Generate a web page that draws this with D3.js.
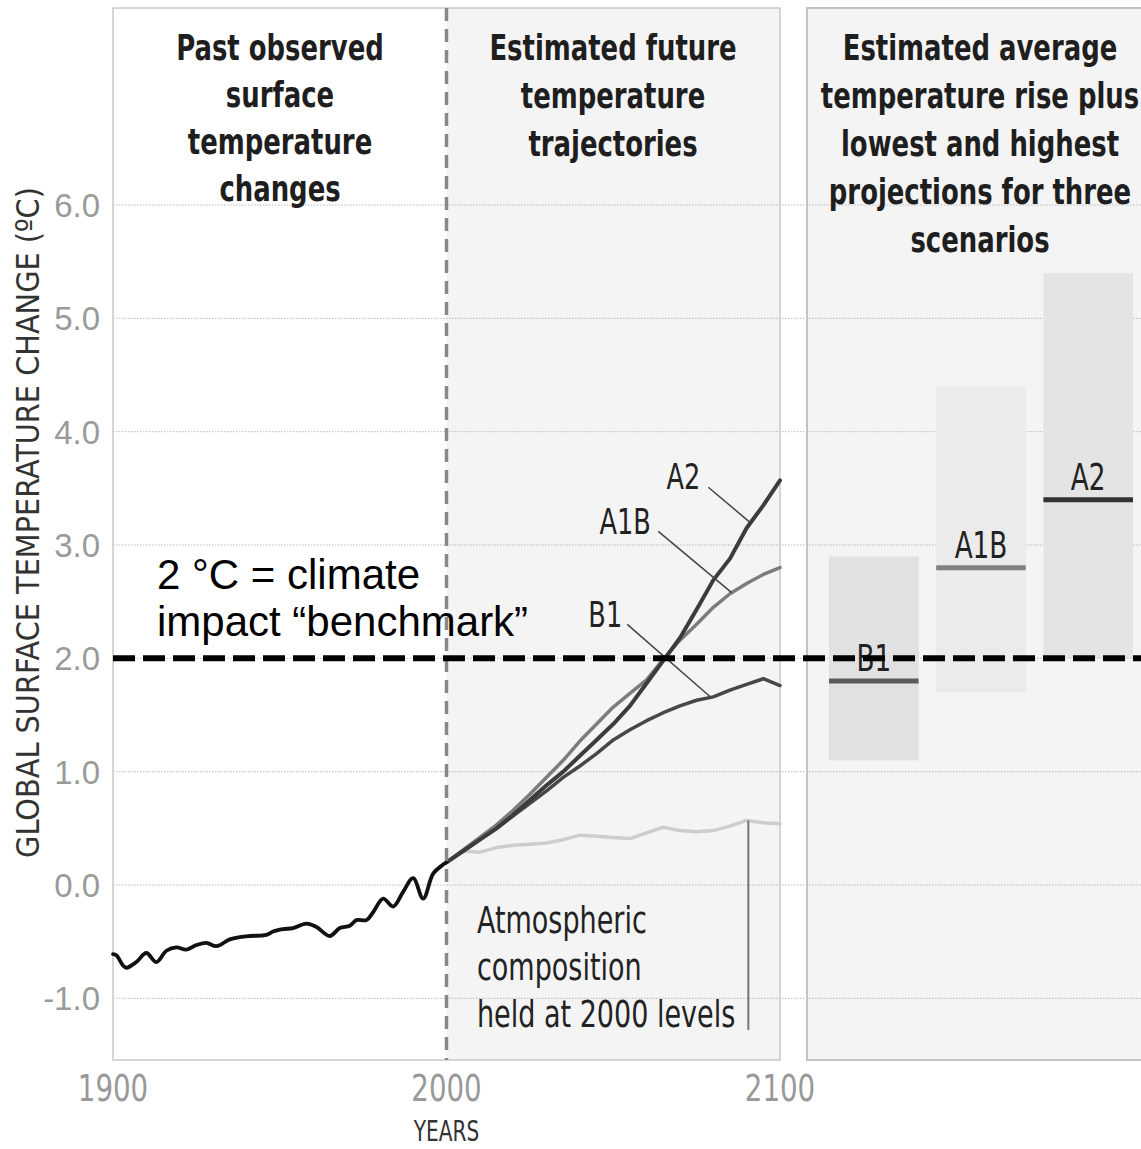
<!DOCTYPE html>
<html>
<head>
<meta charset="utf-8">
<script src="https://cdn.jsdelivr.net/npm/d3@7"></script>
<style>
  html, body { margin: 0; padding: 0; background: #ffffff; }
  svg { display: block; }
</style>
</head>
<body>
<svg id="chart" width="1141" height="1149"></svg>
<script>
// ---------------- DATA ----------------
const histYears  = [1900, 1901, 1903, 1904, 1907, 1910, 1913, 1916, 1919, 1922, 1925, 1928, 1931, 1935, 1938, 1941, 1946, 1948, 1951, 1954, 1958, 1961, 1965, 1968, 1971, 1973, 1976, 1978, 1981, 1984, 1987, 1990, 1993, 1996, 1999, 2000];
const histValues = [-0.61, -0.62, -0.71, -0.73, -0.68, -0.60, -0.68, -0.58, -0.55, -0.57, -0.53, -0.51, -0.54, -0.48, -0.46, -0.45, -0.44, -0.41, -0.39, -0.38, -0.34, -0.37, -0.45, -0.38, -0.36, -0.31, -0.31, -0.24, -0.12, -0.19, -0.06, 0.06, -0.12, 0.10, 0.18, 0.20];

const futureYears   = [2000, 2005, 2010, 2015, 2020, 2025, 2030, 2035, 2040, 2045, 2050, 2055, 2060, 2065, 2070, 2075, 2080, 2085, 2090, 2095, 2100];
const a2Values      = [0.20, 0.30, 0.40, 0.50, 0.62, 0.75, 0.88, 1.00, 1.14, 1.28, 1.42, 1.58, 1.78, 1.98, 2.18, 2.43, 2.69, 2.88, 3.15, 3.35, 3.57];
const a1bValues     = [0.20, 0.31, 0.42, 0.53, 0.66, 0.80, 0.95, 1.10, 1.27, 1.42, 1.57, 1.69, 1.81, 1.99, 2.16, 2.30, 2.45, 2.57, 2.66, 2.74, 2.80];
const b1Values      = [0.20, 0.30, 0.40, 0.50, 0.61, 0.72, 0.83, 0.95, 1.05, 1.16, 1.28, 1.37, 1.45, 1.52, 1.58, 1.63, 1.66, 1.72, 1.77, 1.82, 1.76];
const commitValues  = [0.20, 0.30, 0.29, 0.33, 0.35, 0.36, 0.37, 0.40, 0.44, 0.43, 0.42, 0.41, 0.46, 0.51, 0.48, 0.47, 0.48, 0.52, 0.57, 0.55, 0.54];

const scenarios     = ["B1", "A1B", "A2"];
const scenarioMeans = [1.8, 2.8, 3.4];
const scenarioLows  = [1.1, 1.7, 2.0];
const scenarioHighs = [2.9, 4.4, 5.4];

const yTicks = [-1, 0, 1, 2, 3, 4, 5, 6];
const xTicks = [1900, 2000, 2100];
const benchmark = 2.0;

const titlePast   = ["Past observed", "surface", "temperature", "changes"];
const titleFuture = ["Estimated future", "temperature", "trajectories"];
const titleRight  = ["Estimated average", "temperature rise plus", "lowest and highest", "projections for three", "scenarios"];
const commitLabel = ["Atmospheric", "composition", "held at 2000 levels"];
const benchLabel  = ["2 \u00B0C = climate", "impact \u201Cbenchmark\u201D"];
const yTitle = "GLOBAL SURFACE TEMPERATURE CHANGE (\u00BAC)";
const xTitle = "YEARS";

// ---------------- LAYOUT ----------------
const W = 1141, H = 1149;
const panelTop = 8, panelBottom = 1060;
const rightPanelLeft = 807, rightPanelRight = 1141;

const x = d3.scaleLinear().domain([1900, 2100]).range([113, 780]);
const y = d3.scaleLinear().domain([0, 6]).range([885, 205]);
const xb = d3.scaleBand().domain(scenarios).range([829, 1133]).paddingInner(0.164).paddingOuter(0);

const narrow = "'DejaVu Sans Condensed', 'DejaVu Sans', sans-serif";
const sans = "'Liberation Sans', Arial, sans-serif";
const SQ = 0.79; // horizontal squeeze to mimic a condensed face

const svg = d3.select("#chart");

// helper: condensed text placed at (px, py)
function ctext(parent, px, py, str, o) {
  return parent.append("text")
    .attr("transform", `translate(${px},${py}) scale(${o.sx || SQ},1)`)
    .attr("text-anchor", o.anchor || "start")
    .attr("font-family", o.family || narrow)
    .attr("font-weight", o.weight || "normal")
    .attr("font-size", o.size)
    .attr("fill", o.fill || "#222")
    .text(str);
}

// backgrounds
svg.append("rect").attr("x", 0).attr("y", 0).attr("width", W).attr("height", H).attr("fill", "#ffffff");
svg.append("rect").attr("x", x(2000)).attr("y", panelTop).attr("width", x(2100) - x(2000)).attr("height", panelBottom - panelTop).attr("fill", "#f4f4f4");
svg.append("rect").attr("x", rightPanelLeft).attr("y", panelTop).attr("width", rightPanelRight - rightPanelLeft + 5).attr("height", panelBottom - panelTop).attr("fill", "#f4f4f4");

// grid
svg.append("g").selectAll("line").data(yTicks).join("line")
  .attr("x1", x(1900)).attr("x2", W)
  .attr("y1", d => y(d)).attr("y2", d => y(d))
  .attr("stroke", "#b9b9b9").attr("stroke-width", 1).attr("stroke-dasharray", "1.5,1.5");

// range bars (right panel)
const barFills = ["#e1e1e1", "#ebebeb", "#e4e4e4"];
const meanColors = ["#5a5a5a", "#808080", "#333333"];
svg.append("g").selectAll("rect").data(scenarios).join("rect")
  .attr("x", d => xb(d)).attr("width", xb.bandwidth())
  .attr("y", (d, i) => y(scenarioHighs[i]))
  .attr("height", (d, i) => y(scenarioLows[i]) - y(scenarioHighs[i]))
  .attr("fill", (d, i) => barFills[i]);

// panel borders
svg.append("rect").attr("x", x(1900)).attr("y", panelTop).attr("width", x(2100) - x(1900)).attr("height", panelBottom - panelTop)
  .attr("fill", "none").attr("stroke", "#c9c9c9").attr("stroke-width", 1.5);
svg.append("rect").attr("x", rightPanelLeft).attr("y", panelTop).attr("width", rightPanelRight - rightPanelLeft + 5).attr("height", panelBottom - panelTop)
  .attr("fill", "none").attr("stroke", "#c2c2c2").attr("stroke-width", 2);

// mean lines
svg.append("g").selectAll("line").data(scenarios).join("line")
  .attr("x1", d => xb(d)).attr("x2", d => xb(d) + xb.bandwidth())
  .attr("y1", (d, i) => y(scenarioMeans[i])).attr("y2", (d, i) => y(scenarioMeans[i]))
  .attr("stroke", (d, i) => meanColors[i]).attr("stroke-width", 5);

// scenario labels in right panel
const gScen = svg.append("g");
scenarios.forEach((d, i) => {
  ctext(gScen, xb(d) + xb.bandwidth() / 2, y(scenarioMeans[i]) - 10, d, { size: 37, anchor: "middle" });
});

// lines
const line = d3.line().x(d => x(d[0])).y(d => y(d[1])).curve(d3.curveLinear);
const histLine = d3.line().x(d => x(d[0])).y(d => y(d[1])).curve(d3.curveCatmullRom.alpha(0.5));

const series = [
  { vals: commitValues, color: "#cdcdcd", width: 3.5 },
  { vals: b1Values,  color: "#474747", width: 3.5 },
  { vals: a1bValues, color: "#7c7c7c", width: 3.5 },
  { vals: a2Values,  color: "#3c3c3c", width: 4 }
];
series.forEach(s => {
  svg.append("path")
    .datum(futureYears.map((yr, i) => [yr, s.vals[i]]))
    .attr("d", line).attr("fill", "none")
    .attr("stroke", s.color).attr("stroke-width", s.width)
    .attr("stroke-linejoin", "round").attr("stroke-linecap", "round");
});

svg.append("path")
  .datum(histYears.map((yr, i) => [yr, histValues[i]]))
  .attr("d", histLine).attr("fill", "none")
  .attr("stroke", "#111").attr("stroke-width", 3.8)
  .attr("stroke-linejoin", "round").attr("stroke-linecap", "round");

// 2000 divider dashed
svg.append("line").attr("x1", x(2000)).attr("x2", x(2000)).attr("y1", panelTop).attr("y2", panelBottom)
  .attr("stroke", "#888").attr("stroke-width", 3.5).attr("stroke-dasharray", "13,8");

// leader lines + labels for trajectories
const leaders = [
  { label: "A2",  lx: 2071,   ly: 3.49, from: [2078.5, 3.51], to: [2091, 3.20] },
  { label: "A1B", lx: 2053.6, ly: 3.10, from: [2063.5, 3.12], to: [2085.5, 2.58] },
  { label: "B1",  lx: 2047.6, ly: 2.28, from: [2054.2, 2.30], to: [2079.5, 1.65] }
];
const gLead = svg.append("g");
leaders.forEach(l => {
  gLead.append("line")
    .attr("x1", x(l.from[0])).attr("y1", y(l.from[1]))
    .attr("x2", x(l.to[0])).attr("y2", y(l.to[1]))
    .attr("stroke", "#444").attr("stroke-width", 1.5);
  ctext(gLead, x(l.lx), y(l.ly), l.label, { size: 36, anchor: "middle" });
});

// commitment leader
svg.append("line").attr("x1", x(2090.5)).attr("x2", x(2090.5)).attr("y1", y(0.57)).attr("y2", y(-1.28))
  .attr("stroke", "#777").attr("stroke-width", 2);
const gCommit = svg.append("g");
commitLabel.forEach((d, i) => ctext(gCommit, 477, 933 + i * 47, d, { size: 38 }));

// 2 degree benchmark
svg.append("line").attr("x1", x(1900)).attr("x2", W).attr("y1", y(benchmark)).attr("y2", y(benchmark))
  .attr("stroke", "#000").attr("stroke-width", 6).attr("stroke-dasharray", "22,8");
svg.append("g").selectAll("text").data(benchLabel).join("text")
  .attr("x", 157).attr("y", (d, i) => 589 + i * 47)
  .attr("font-family", sans).attr("font-size", 42).attr("fill", "#000")
  .text(d => d);

// titles
function title(lines, cx, y0, dy) {
  const g = svg.append("g");
  lines.forEach((d, i) => ctext(g, cx, y0 + i * dy, d, { size: 36, anchor: "middle", weight: "bold", fill: "#1e1e1e", sx: 0.8 }));
}
title(titlePast, 280, 60, 47);
title(titleFuture, 613, 60, 48);
title(titleRight, 980, 60, 48);

// y axis tick labels
svg.append("g").selectAll("text").data(yTicks).join("text")
  .attr("x", 100).attr("y", d => y(d)).attr("dy", "0.36em")
  .attr("text-anchor", "end").attr("font-family", sans).attr("font-size", 33).attr("fill", "#9a9a9a")
  .text(d => d3.format(".1f")(d).replace("\u2212", "-"));

// x axis tick labels
const gX = svg.append("g");
xTicks.forEach(d => ctext(gX, x(d), 1101, String(d), { size: 38, anchor: "middle", fill: "#999", family: narrow, sx: 0.81 }));

// axis titles
svg.append("text").attr("transform", `translate(39, ${(190 + 855) / 2}) rotate(-90)`)
  .attr("text-anchor", "middle").attr("font-family", narrow).attr("font-size", 32)
  .attr("fill", "#333").text(yTitle);
ctext(svg, x(2000), 1141, xTitle, { size: 28, anchor: "middle", fill: "#333", sx: 0.8 });
</script>
</body>
</html>
